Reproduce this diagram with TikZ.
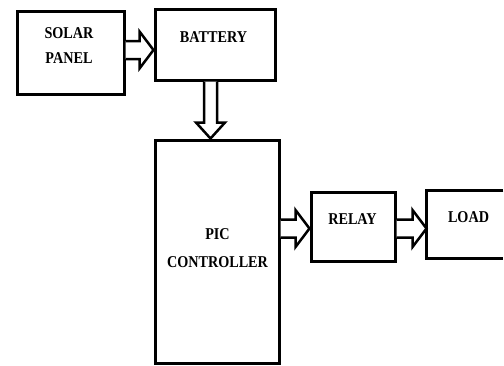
\documentclass[tikz,border=0pt]{standalone}
\usepackage{fontspec}
\newfontfamily\blockfont[FakeStretch=0.86]{Liberation Serif}
\usetikzlibrary{calc}

% hollow block arrow, left to right, from #1.east to #2.west at height #3
\newcommand{\harrow}[3]{%
  \draw[fat] let \p1=(#1.east), \p2=(#2.west), \p3=(0,#3) in
    (\x1,\y3+9pt) -- (\x2-14pt,\y3+9pt) -- (\x2-14pt,\y3+18.5pt) -- (\x2,\y3)
    -- (\x2-14pt,\y3-18.5pt) -- (\x2-14pt,\y3-9pt) -- (\x1,\y3-9pt);}
% hollow block arrow, top to bottom, from #1.south to #2.north at x = #3
\newcommand{\varrow}[3]{%
  \draw[fat] let \p1=(#1.south), \p2=(#2.north), \p3=(#3,0) in
    (\x3-6.5pt,\y1) -- (\x3-6.5pt,\y2+16pt) -- (\x3-14.5pt,\y2+16pt) -- (\x3,\y2)
    -- (\x3+14.5pt,\y2+16pt) -- (\x3+6.5pt,\y2+16pt) -- (\x3+6.5pt,\y1);}

\begin{document}
\begin{tikzpicture}[x=1pt,y=-1pt,
  block/.style={draw=black,line width=3pt,inner sep=0pt,fill=white},
  lab/.style={font=\blockfont\bfseries\fontsize{16.5}{25}\selectfont,align=center,inner sep=0pt},
  fat/.style={draw=black,line width=2.5pt,fill=white,line join=miter}]

\useasboundingbox (0,0) rectangle (504,365);

% ---- blocks ----
\node[block,minimum width=107pt,minimum height=83pt] (solar) at (70.5,52.5) {};
\node[lab] (solartxt) at (69,45.5) {SOLAR\\PANEL};
\node[block,minimum width=120.5pt,minimum height=70.5pt] (battery) at (215.25,44.75) {};
\node[lab] (batterytxt) at (213.5,37.5) {BATTERY};
\node[block,minimum width=123.5pt,minimum height=223pt] (pic) at (217.25,251.5) {};
\node[lab,font=\blockfont\bfseries\fontsize{16.5}{27.5}\selectfont] (pictxt) at (217.5,248) {PIC\\CONTROLLER};
\node[block,minimum width=84pt,minimum height=69pt] (relay) at (353,226.5) {};
\node[lab] (relaytxt) at (352.5,219.5) {RELAY};
% load box runs off the right edge: no right side
\node[inner sep=0pt,anchor=west,minimum width=76.5pt,minimum height=68pt] (load) at (426.5,224.5) {};
\draw[line width=3pt] (load.north east) -- (load.north west) -- (load.south west) -- (load.south east);
\node[lab] (loadtxt) at (468.5,217) {LOAD};

% ---- block arrows ----
\harrow{solar}{battery}{50}
\varrow{battery}{pic}{210.5}
\harrow{pic}{relay}{228.5}
\harrow{relay}{load}{228.5}
\end{tikzpicture}
\end{document}
